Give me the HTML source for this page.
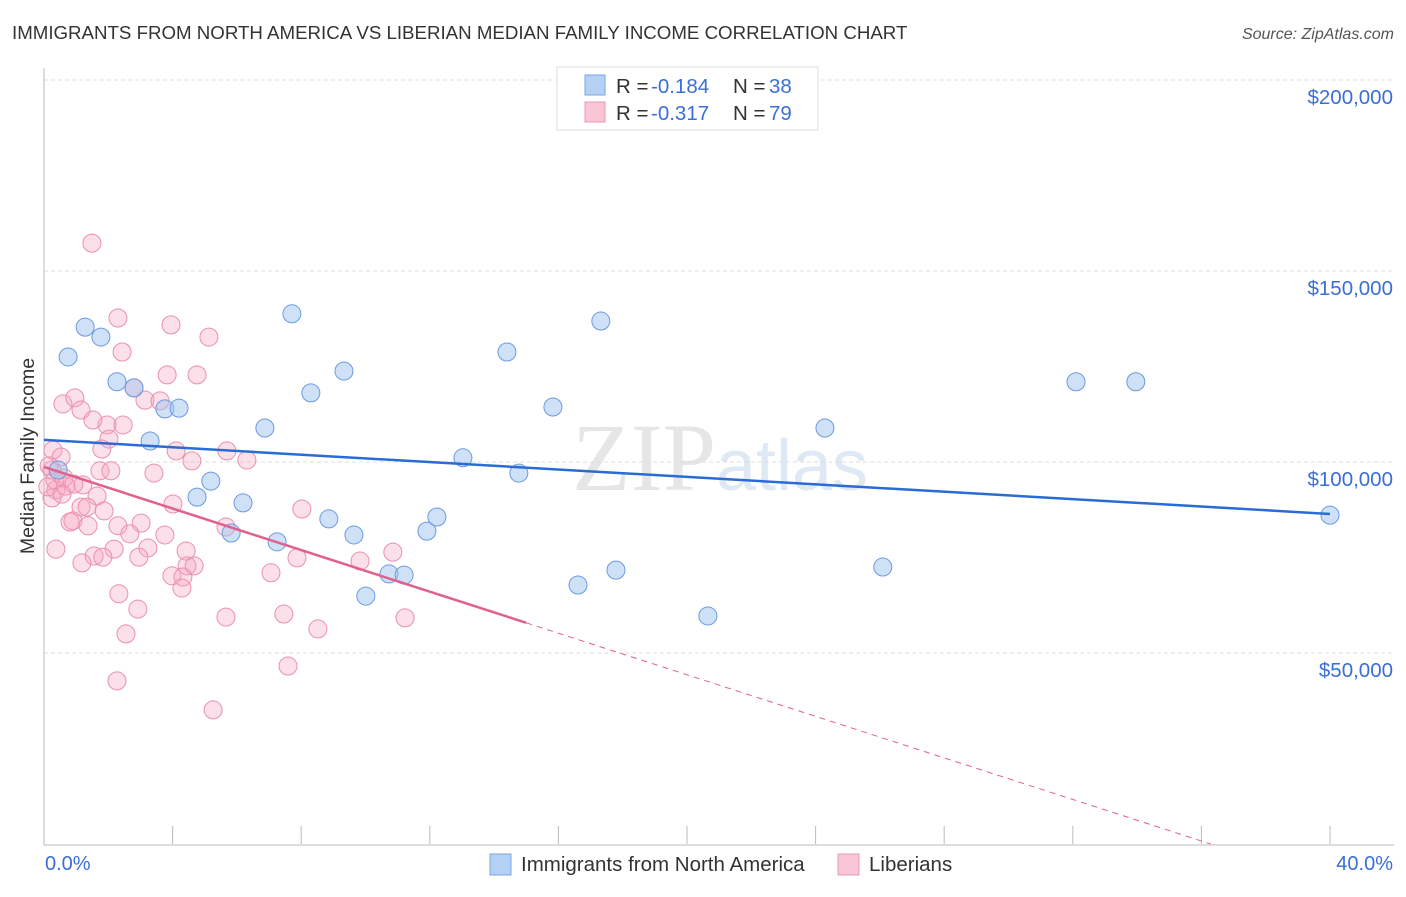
<!DOCTYPE html>
<html><head><meta charset="utf-8"><style>
body{margin:0;background:#fff;font-family:"Liberation Sans",sans-serif;}
svg text{font-family:"Liberation Sans",sans-serif;}
</style></head><body>
<svg id="chart" width="1406" height="892">
<text x="12" y="39" font-size="18.7" fill="#333">IMMIGRANTS FROM NORTH AMERICA VS LIBERIAN MEDIAN FAMILY INCOME CORRELATION CHART</text>
<text x="1394" y="39" font-size="16" fill="#555" font-style="italic" text-anchor="end">Source: ZipAtlas.com</text>
<text x="0" y="0" transform="translate(34,456) rotate(-90)" font-size="19.5" fill="#333" text-anchor="middle">Median Family Income</text>
<text x="720" y="490" font-size="96" fill="#e6e6e6" text-anchor="middle" font-family="Liberation Serif"><tspan font-family="Liberation Serif">ZIP</tspan><tspan fill="#dfe8f5" font-family="Liberation Sans" font-size="72">atlas</tspan></text>
<g id="grid"></g><g id="marks"></g>
<g>
<rect x="557" y="67" width="261" height="63" fill="#fff" stroke="#ddd"/>
<rect x="585" y="75" width="20" height="20" fill="#b5d0f5" stroke="#7aa6e6"/>
<rect x="585" y="102" width="20" height="20" fill="#f9c6d6" stroke="#ec9ab6"/>
<text y="93" font-size="20.5" fill="#333"><tspan x="616">R = </tspan><tspan x="651" fill="#3a6fd6">-0.184</tspan><tspan x="733">N = </tspan><tspan x="769" fill="#3a6fd6">38</tspan></text>
<text y="120" font-size="20.5" fill="#333"><tspan x="616">R = </tspan><tspan x="651" fill="#3a6fd6">-0.317</tspan><tspan x="733">N = </tspan><tspan x="769" fill="#3a6fd6">79</tspan></text>
</g>
<rect x="490" y="854" width="21" height="21" fill="#b5d0f5" stroke="#7aa6e6"/>
<text x="521" y="871" font-size="20.5" fill="#333">Immigrants from North America</text>
<rect x="838" y="854" width="21" height="21" fill="#f9c6d6" stroke="#ec9ab6"/>
<text x="869" y="871" font-size="20.5" fill="#333">Liberians</text>
<text x="45" y="870" font-size="20" fill="#3a6fd6">0.0%</text>
<text x="1393" y="870" font-size="20" fill="#3a6fd6" text-anchor="end">40.0%</text>
</svg>
<script>
const yTicks=[50000,100000,150000,200000];
const yTickLabels=["$50,000","$100,000","$150,000","$200,000"];
const xTicks=[0,4,8,12,16,20,24,28,32,36,40];
const blueX=[0.75,1.28,1.77,2.27,2.80,3.30,3.76,4.20,4.76,5.19,6.19,5.82,6.87,7.25,7.71,8.30,8.86,9.33,9.64,10.73,11.20,10.01,11.91,12.22,13.03,14.40,14.77,15.83,16.61,17.32,17.79,20.65,24.29,26.09,32.10,33.96,40.0,0.44];
const blueY=[127.5,135.3,132.7,121.0,119.4,105.5,113.9,114.1,90.8,95.0,89.3,81.4,108.9,79.1,138.8,118.1,85.1,123.8,80.9,70.7,70.4,64.9,81.9,85.6,101.1,128.8,97.1,114.4,67.8,136.9,71.7,59.7,108.9,72.5,121.0,121.0,86.1,97.9];
const pinkX=[1.49,2.30,3.95,5.13,2.43,3.83,4.76,2.80,0.59,0.96,1.15,3.14,3.61,1.52,1.96,2.46,2.02,0.28,4.11,5.69,1.80,0.53,4.60,6.31,0.25,0.62,1.74,2.08,3.42,0.37,0.68,0.93,1.21,0.25,1.65,1.15,1.34,1.87,4.01,8.02,0.81,0.90,1.37,2.30,3.02,5.66,2.67,3.76,0.37,2.18,3.23,4.42,1.56,2.95,1.18,1.83,4.45,4.67,3.98,4.32,7.06,7.87,9.83,10.85,2.33,4.29,2.92,5.66,7.46,8.52,11.23,2.55,7.59,2.27,5.26,0.12,0.34,0.56,0.16];
const pinkY=[157.3,137.7,135.9,132.7,128.8,122.8,122.8,119.4,115.2,116.8,113.6,116.2,116.0,111.0,109.7,109.7,106.0,103.1,102.9,102.9,103.4,101.3,100.3,100.5,97.9,95.8,97.7,97.7,97.1,92.7,93.7,94.2,94.0,90.6,91.1,88.2,88.2,87.2,89.0,87.7,84.3,84.6,83.3,83.3,84.0,83.0,81.2,80.9,77.2,77.2,77.5,76.7,75.4,75.1,73.6,75.1,72.8,72.8,70.2,69.9,71.0,74.9,74.1,76.4,65.5,67.0,61.5,59.4,60.2,56.3,59.2,55.0,46.6,42.7,35.1,93.5,95.3,91.6,99.0];
const blueTrend=[105.8,86.4];
const pinkTrend=[98.7,57.9];
const pinkTrendEnd=15.0;

const NS="http://www.w3.org/2000/svg";
const X0=44,X1=1330,Y0=844,YT=80;
const sx=v=>X0+(v/40)*(X1-X0);
const sy=v=>Y0-(v/200000)*(Y0-YT);
function mk(tag,attrs,parent){const e=document.createElementNS(NS,tag);for(const k in attrs)e.setAttribute(k,attrs[k]);parent.appendChild(e);return e;}
const grid=document.getElementById('grid'),marks=document.getElementById('marks');
yTicks.forEach((t,i)=>{
  const l=mk('line',{x1:X0,x2:1394,y1:sy(t),y2:sy(t),stroke:'#ddd','stroke-dasharray':'4,3'},grid);
  
  
  const tx=mk('text',{x:1393,y:sy(t)+24,'font-size':20.5,fill:'#3a6fd6','text-anchor':'end'},grid);
  tx.textContent=yTickLabels[i];
  
  
});
const ax=mk('line',{x1:X0,x2:X0,y1:68,y2:Y0+1,stroke:'#bbb'},grid);


const bx=mk('line',{x1:X0,x2:1394,y1:Y0+1,y2:Y0+1,stroke:'#bbb'},grid);


xTicks.forEach(t=>{
  const l=mk('line',{x1:sx(t),x2:sx(t),y1:Y0-18,y2:Y0,stroke:'#bbb'},grid);
  
  
});
pinkX.forEach((x,i)=>{
  const c=mk('circle',{cx:sx(x),cy:sy(pinkY[i]*1000),r:9,fill:'rgba(245,165,192,0.35)',stroke:'#ea8fae','stroke-width':1},marks);
  
  
});
blueX.forEach((x,i)=>{
  const c=mk('circle',{cx:sx(x),cy:sy(blueY[i]*1000),r:9,fill:'rgba(160,196,240,0.5)',stroke:'#6b9ae0','stroke-width':1},marks);
  
  
});
const bl=mk('line',{x1:sx(0),y1:sy(blueTrend[0]*1000),x2:sx(40),y2:sy(blueTrend[1]*1000),stroke:'#2a6bd6','stroke-width':2.5},marks);


const pl=mk('line',{x1:sx(0),y1:sy(pinkTrend[0]*1000),x2:sx(pinkTrendEnd),y2:sy(pinkTrend[1]*1000),stroke:'#e0608e','stroke-width':2.5},marks);


const slope=(pinkTrend[1]-pinkTrend[0])/pinkTrendEnd;
const xz=-pinkTrend[0]/slope;
const pd=mk('line',{x1:sx(pinkTrendEnd),y1:sy(pinkTrend[1]*1000),x2:sx(xz),y2:sy(0),stroke:'#e0608e','stroke-width':1,'stroke-dasharray':'6,5'},marks);


</script>
</body></html>
